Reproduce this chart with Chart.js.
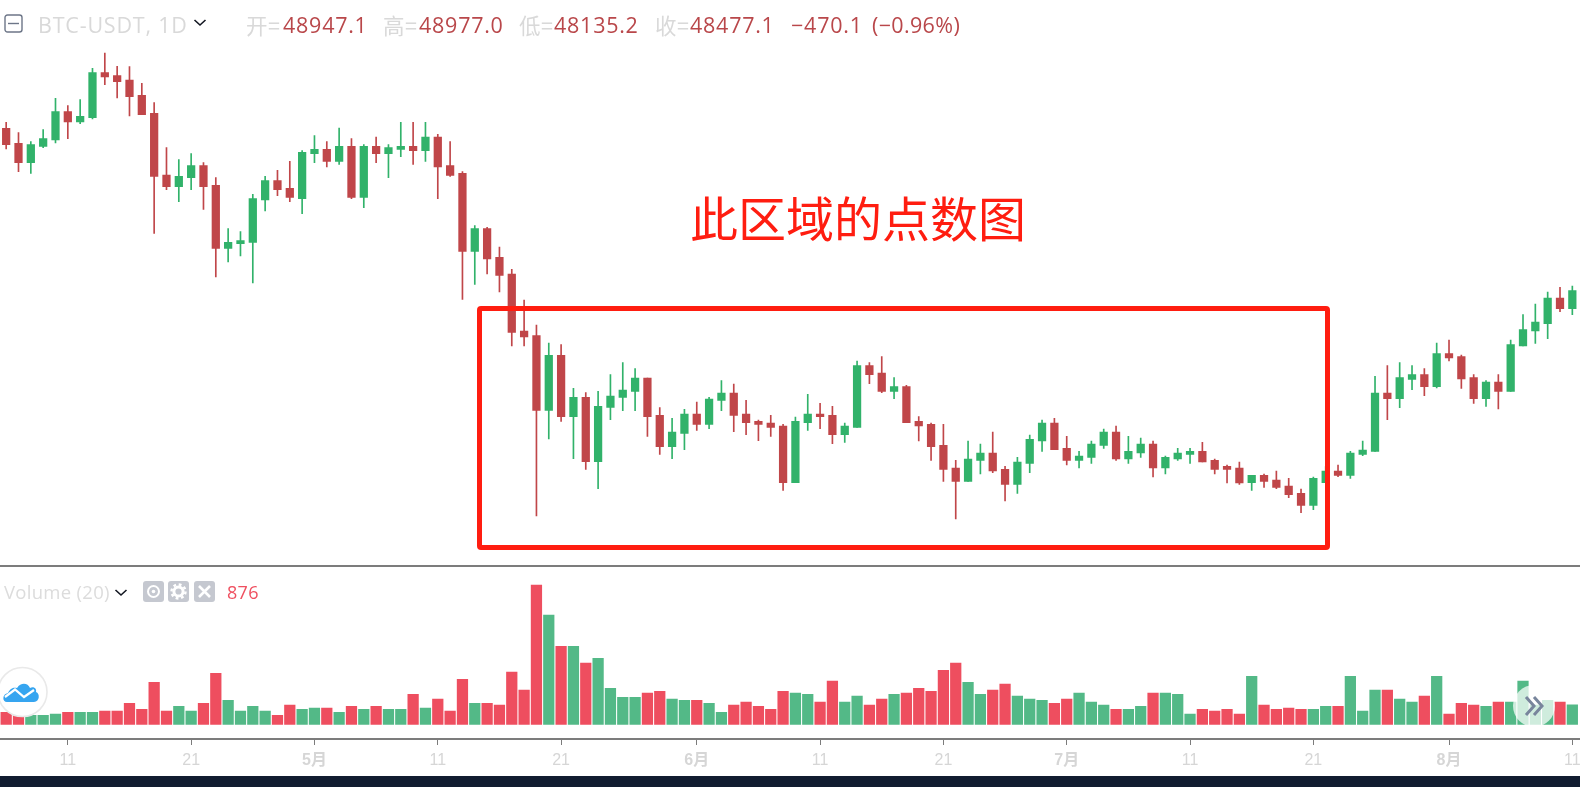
<!DOCTYPE html>
<html>
<head>
<meta charset="utf-8">
<title>BTC-USDT</title>
<script src="https://cdn.jsdelivr.net/npm/chart.js@4"></script>
<style>
    html, body { margin: 0; padding: 0; background: #fff; overflow: hidden; }
    #wrap { position: relative; width: 1580px; height: 787px; overflow: hidden; font-family: "Open Sans", "Noto Sans CJK SC", sans-serif; }
    #chart { position: absolute; left: 0; top: 0; }
    .txt { position: absolute; white-space: nowrap; font-size: 21.5px; line-height: 24px; letter-spacing: 0.75px; color: #d9d9d9; }
    .cjk { font-family: "Noto Sans CJK SC", sans-serif; letter-spacing: 0.45px; }
    .red { color: #b9474a; }
    .ico { position: absolute; }
    #footer { position: absolute; left: 0; top: 776px; width: 1580px; height: 11px; background: #111c30; }
    #sep { position: absolute; left: 0; top: 565px; width: 1580px; height: 2px; background: #7c7c7c; }
    #axisEnd { position: absolute; left: 1577px; top: 738px; width: 3px; height: 2px; background: #7c7c7c; }
    #frame { position: absolute; left: 477px; top: 306px; width: 853px; height: 244px; box-sizing: border-box; border: 5px solid #ff1d10; border-radius: 4px; }
    #note { position: absolute; left: 690px; top: 182px; font: 48px/68px "Noto Sans CJK SC", sans-serif; color: #ff1d10; white-space: nowrap; }
</style>
</head>
<body>
<div id="wrap">
    <canvas id="chart" width="1580" height="776"></canvas>
    <div id="sep"></div>
    <div id="axisEnd"></div>
    <div id="footer"></div>
    <div id="frame"></div>
    <div id="note">此区域的点数图</div>

    <!-- cabecera -->
    <svg class="ico" style="left:4px;top:14px" width="20" height="20"><rect x="1" y="1" width="17" height="17" rx="2.5" fill="none" stroke="#6d7688" stroke-width="1.4"/><line x1="4" y1="9.5" x2="15" y2="9.5" stroke="#6d7688" stroke-width="1.4"/></svg>
    <div class="txt" style="left:38px;top:13px;letter-spacing:.8px">BTC-USDT, 1D</div>
    <svg class="ico" style="left:193px;top:18px" width="14" height="10"><path d="M1.5 2 L7 7 L12.5 2" fill="none" stroke="#131722" stroke-width="1.6"/></svg>
    <div class="txt cjk" style="left:246px;top:13px">开=</div><div class="txt red" style="left:283px;top:13px">48947.1</div>
    <div class="txt cjk" style="left:383px;top:13px">高=</div><div class="txt red" style="left:419px;top:13px">48977.0</div>
    <div class="txt cjk" style="left:519px;top:13px">低=</div><div class="txt red" style="left:554px;top:13px">48135.2</div>
    <div class="txt cjk" style="left:655px;top:13px">收=</div><div class="txt red" style="left:690px;top:13px">48477.1</div>
    <div class="txt red" style="left:791px;top:13px;letter-spacing:.8px">−470.1</div><div class="txt red" style="left:872px;top:13px;letter-spacing:.35px">(−0.96%)</div>

    <!-- leyenda del volumen -->
    <div class="txt" style="left:4px;top:580px;font-size:18.5px;letter-spacing:.3px;color:#dcdcdc">Volume (20)</div>
    <svg class="ico" style="left:114px;top:588px" width="14" height="10"><path d="M1.5 2 L7 7 L12.5 2" fill="none" stroke="#131722" stroke-width="1.6"/></svg>
    <svg class="ico" style="left:143px;top:581px" width="73" height="22">
        <rect x="0" y="0" width="21" height="21" rx="3" fill="#c5c8d0"/>
        <circle cx="10.5" cy="10.5" r="5.5" fill="none" stroke="#fff" stroke-width="2"/><circle cx="10.5" cy="10.5" r="1.8" fill="#fff"/>
        <rect x="25" y="0" width="21" height="21" rx="3" fill="#c5c8d0"/>
        <circle cx="35.5" cy="10.5" r="4.6" fill="none" stroke="#fff" stroke-width="3"/><circle cx="35.5" cy="10.5" r="7" fill="none" stroke="#fff" stroke-width="2.4" stroke-dasharray="2.8 2.7"/>
        <rect x="51" y="0" width="21" height="21" rx="3" fill="#c5c8d0"/>
        <path d="M56 5 L67 16 M67 5 L56 16" stroke="#fff" stroke-width="2.6"/>
    </svg>
    <div class="txt" style="left:227px;top:580px;font-size:18px;letter-spacing:.3px;color:#ef5060">876</div>

    <!-- logo y boton -->
    <svg class="ico" style="left:-3px;top:666px" width="52" height="52">
        <circle cx="25.5" cy="26" r="24.5" fill="#fff" stroke="#e9e9e9" stroke-width="1.6"/>
        <path d="M10 36 C5 36 5 28 11 27 C13 22 17 21 20 22 C24 16 31 17 33 22 C37 20 40 23 39 26 C43 27 43 36 37 36 Z" fill="#36a5f0"/>
        <path d="M8 31 L18 23.5 L27 31 L37 24" fill="none" stroke="#fff" stroke-width="2.2"/>
    </svg>
    <svg class="ico" style="left:1512px;top:684px" width="44" height="44">
        <circle cx="22" cy="22" r="21" fill="#fff" fill-opacity="0.72"/>
        <path d="M14 13 L22 22 L14 31 M22 13 L30 22 L22 31" fill="none" stroke="#78859c" stroke-width="3"/>
    </svg>
</div>

<script>
// Velas diarias, 6 abril a 11 agosto 2021
const barCount = 128;
const monthLabels = { 5: '5月', 6: '6月', 7: '7月', 8: '8月' };
const tickDays = [1, 11, 21];

const opens = [
    59375, 58250, 56800, 58025, 58500, 60625, 59850, 60175, 63550, 63325, 63000, 61850, 60500, 55875, 55000, 55675,
    56575, 55100, 50375, 50725, 50825, 54000, 55450, 54875, 54100, 57475, 57800, 56900, 58025, 54200, 58025, 57475,
    57800, 58025, 57700, 58725, 56575, 56000, 50150, 51850, 49700, 48450, 44175, 43825, 38225, 42350, 37750, 39200,
    34375, 38450, 39200, 39650, 40650, 37850, 35500, 36500, 37950, 37175, 38975, 39525, 37950, 37400, 37275, 37050,
    32800, 37300, 37950, 37850, 36400, 36950, 41575, 41025, 39650, 40000, 37400, 37175, 35600, 33900, 32900, 34475,
    35025, 33800, 32675, 34250, 35925, 37275, 35375, 34475, 34700, 35600, 36600, 34575, 35025, 35700, 33900, 34575,
    34925, 35150, 34475, 34025, 33900, 32800, 33350, 33000, 32550, 32000, 31100, 32800, 33675, 33350, 34925, 35150,
    39525, 39100, 40550, 40900, 40000, 42475, 42250, 40675, 39100, 40350, 39650, 43050, 44175, 44725, 46650, 45850
];
const closes = [
    58150, 56800, 58150, 58600, 60625, 59850, 60275, 63550, 63225, 62875, 61750, 60400, 55775, 55000, 55775, 56575,
    55000, 50375, 50825, 50950, 54100, 55450, 54775, 54200, 57575, 57800, 56900, 58025, 54200, 58025, 57475, 57925,
    58025, 57700, 58725, 56475, 55850, 50150, 51850, 49575, 48350, 44075, 43725, 38225, 42350, 37750, 39200, 34375,
    38525, 39300, 39750, 40650, 37750, 35500, 36600, 37950, 37175, 39075, 39525, 37850, 37300, 37175, 36950, 32800,
    37400, 37950, 37750, 36400, 37050, 41575, 40900, 39650, 40000, 37300, 37050, 35500, 33800, 32900, 34575, 35025,
    33675, 32675, 34350, 36050, 37275, 35275, 34475, 34800, 35700, 36600, 34575, 35150, 35700, 33900, 34700, 35025,
    35150, 34350, 33800, 33800, 32775, 33350, 32900, 32450, 31900, 31100, 33125, 33675, 33350, 35025, 35250, 39525,
    39100, 40675, 40900, 40000, 42475, 42150, 40575, 39100, 40350, 39650, 43150, 44275, 44850, 46650, 45850, 47200
];
const highs = [
    59825, 59050, 58375, 59275, 61625, 61075, 61525, 63875, 65025, 64025, 64000, 62750, 61300, 57925, 57025, 57475,
    56800, 55675, 51850, 51625, 54425, 55775, 56225, 56900, 57700, 58825, 58375, 59400, 58600, 58150, 58725, 58150,
    59825, 59825, 59825, 58925, 58375, 56125, 52075, 51950, 50475, 48800, 46500, 44625, 43275, 43150, 39875, 39550,
    39650, 40900, 41800, 41350, 40650, 38425, 37625, 38300, 38850, 39200, 40450, 40200, 38975, 37500, 37850, 37175,
    37725, 39425, 38750, 38525, 37275, 41925, 41800, 42250, 40675, 40100, 37750, 37275, 37175, 34475, 35925, 35700,
    36600, 34025, 34700, 36375, 37500, 37625, 36275, 35150, 35925, 36825, 37050, 36275, 36150, 35925, 34800, 35375,
    35375, 35825, 34575, 34125, 34350, 33350, 33450, 33675, 33125, 32325, 33225, 34000, 34125, 35150, 35925, 40775,
    41575, 41800, 41575, 41350, 43275, 43500, 42375, 40900, 40450, 40900, 43500, 45400, 46200, 47100, 47450, 47550
];
const lows = [
    57825, 56125, 56000, 57925, 58275, 58600, 59725, 60075, 62650, 61650, 60300, 60400, 51500, 54775, 53875, 54775,
    53300, 48225, 49350, 49800, 47775, 53175, 54325, 53875, 52975, 56800, 56475, 56675, 54100, 53425, 56800, 55675,
    57250, 56675, 56900, 54100, 55775, 46550, 47675, 48450, 47100, 43050, 43050, 30300, 36075, 37400, 34600, 33800,
    32350, 37525, 38200, 38200, 36275, 34925, 34600, 35275, 36725, 36850, 38200, 36625, 36400, 35950, 36275, 32225,
    32800, 36725, 36850, 35725, 35825, 36950, 40225, 39550, 39100, 37300, 35925, 34475, 32900, 30075, 32900, 33450,
    33550, 31425, 32000, 33550, 35150, 35275, 34125, 33900, 34250, 35375, 34475, 34250, 34700, 33225, 33450, 34475,
    34250, 34350, 33450, 32775, 32675, 32225, 32450, 32350, 31675, 30550, 30775, 32800, 33250, 33125, 34825, 35150,
    37525, 38425, 39775, 39325, 39900, 41925, 39875, 38750, 38525, 38325, 39650, 43050, 43250, 43600, 45625, 45400
];
const volumes = [
    540, 465, 405, 405, 465, 540, 540, 540, 600, 600, 945, 675, 1890, 600, 810, 600,
    945, 2295, 1080, 600, 810, 600, 405, 870, 675, 735, 735, 540, 810, 675, 810, 675,
    675, 1350, 735, 1140, 600, 2025, 945, 945, 870, 2355, 1545, 6270, 4920, 3510, 3510, 2760,
    2970, 1620, 1215, 1215, 1410, 1485, 1140, 1080, 1080, 945, 540, 870, 1005, 810, 675, 1485,
    1410, 1350, 1005, 1950, 1005, 1275, 870, 1140, 1350, 1410, 1620, 1485, 2430, 2760, 1890, 1350,
    1545, 1815, 1275, 1140, 1080, 945, 1140, 1410, 1005, 870, 675, 675, 810, 1410, 1410, 1350,
    465, 675, 600, 675, 465, 2160, 870, 675, 735, 675, 675, 810, 810, 2160, 600, 1545,
    1545, 1140, 1005, 1275, 2160, 465, 945, 870, 810, 1005, 1005, 1950, 870, 1080, 1005, 876
];

const categories = [];
for (let i = 0; i < barCount; i++) {
    categories.push(new Date(2021, 3, 6 + i));
}

function isUp(i) {
    return closes[i] >= opens[i];
}

const candleColors = categories.map((d, i) => isUp(i) ? '#31b26a' : '#c04649');
const volumeColors = categories.map((d, i) => isUp(i) ? '#53b987' : '#ee4e5f');

function tickText(d) {
    if (d.getDate() === 1) return monthLabels[d.getMonth() + 1];
    return String(d.getDate());
}

const ctx = document.getElementById('chart').getContext('2d');
new Chart(ctx, {
    type: 'bar',
    data: {
        labels: categories,
        datasets: [
            {
                label: 'Volume',
                data: volumes,
                yAxisID: 'yVol',
                backgroundColor: volumeColors,
                barThickness: 10.6,
                grouped: false,
                order: 3
            },
            {
                label: 'Mechas',
                data: categories.map((d, i) => [lows[i], highs[i]]),
                yAxisID: 'yPrice',
                backgroundColor: candleColors,
                barThickness: 1,
                grouped: false,
                order: 2
            },
            {
                label: 'Cuerpos',
                data: categories.map((d, i) => [opens[i], closes[i]]),
                yAxisID: 'yPrice',
                backgroundColor: candleColors,
                barThickness: 7.6,
                grouped: false,
                order: 1
            }
        ]
    },
    options: {
        responsive: false,
        animation: false,
        // Todo el dibujo va 1.5px a la izquierda, como en la captura
        layout: { padding: { left: -1.5, right: 1.5, top: 0, bottom: 0 } },
        plugins: { legend: { display: false }, tooltip: { enabled: false } },
        scales: {
            x: {
                type: 'category',
                offset: true,
                // Altura fija del eje y sin margen lateral: el area de dibujo ocupa todo el ancho
                afterFit: function (scale) {
                    scale.height = 37;
                    scale.paddingLeft = 0;
                    scale.paddingRight = 0;
                },
                afterBuildTicks: function (scale) {
                    scale.ticks = scale.ticks.filter(t => tickDays.includes(categories[t.value].getDate()));
                },
                border: { display: true, color: '#7c7c7c', width: 2 },
                grid: { display: true, drawOnChartArea: false, offset: false, color: '#7c7c7c', tickLength: 6, tickWidth: 1 },
                ticks: {
                    autoSkip: false,
                    maxRotation: 0,
                    padding: 6,
                    color: '#d6d6d6',
                    callback: function (value) { return tickText(categories[value]); },
                    font: function (c) {
                        const isMonth = c.tick && categories[c.tick.value].getDate() === 1;
                        return { family: 'Liberation Sans, "Noto Sans CJK SC"', size: 16, weight: isMonth ? 'bold' : 'normal' };
                    }
                }
            },
            yPrice: { display: false, min: 13575, max: 69000 },
            yVol: { display: false, min: -661.5, max: 32593.5 }
        }
    }
});
</script>
</body>
</html>
